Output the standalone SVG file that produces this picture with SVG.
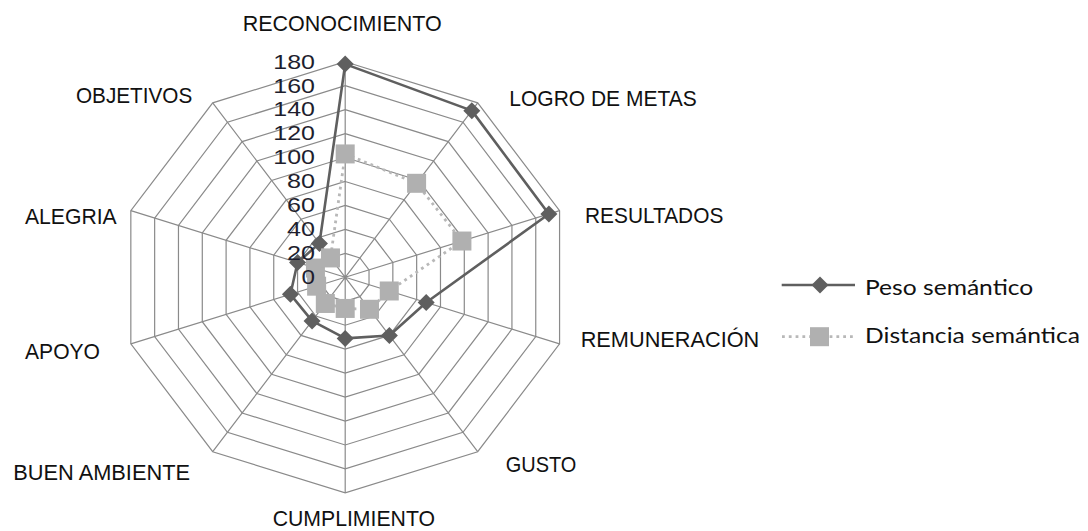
<svg xmlns="http://www.w3.org/2000/svg" xmlns:xlink="http://www.w3.org/1999/xlink" width="1088" height="531" viewBox="0 0 1088 531">
<style>
.grid{fill:none;stroke:#8a8a8a;stroke-width:1.2}
.peso{fill:none;stroke:#5f5f5f;stroke-width:2.6;stroke-linejoin:round}
.dist{fill:none;stroke:#b8b8b8;stroke-width:2.8;stroke-dasharray:2.8 4}
.dia{fill:#5f5f5f}
.sq{fill:#b0b0b0}
.cat{font-family:"Liberation Sans",Arial,sans-serif;font-size:22px;fill:#111}
.num{font-family:"Liberation Sans",Arial,sans-serif;font-size:21px;fill:#1e1e2e;text-anchor:end}
.leg{font-family:"Lato","Liberation Sans",sans-serif;font-size:22px;fill:#111}
</style>
<defs>
<polygon id="diamond" points="0,-8.5 8.5,0 0,8.5 -8.5,0"/>
<rect id="square" x="-9.5" y="-9.5" width="19" height="19"/>
</defs>
<rect width="1088" height="531" fill="#fff"/>
<g id="chart" transform="translate(345.2,277.3)">
<g id="grid" class="grid">
<polygon points="0,-23.956 14.721,-19.380 23.819,-7.402 23.819,7.402 14.721,19.380 0,23.956 -14.721,19.380 -23.819,7.402 -23.819,-7.402 -14.721,-19.380"/>
<polygon points="0,-47.911 29.442,-38.760 47.638,-14.804 47.638,14.804 29.442,38.760 0,47.911 -29.442,38.760 -47.638,14.804 -47.638,-14.804 -29.442,-38.760"/>
<polygon points="0,-71.867 44.163,-58.140 71.457,-22.207 71.457,22.207 44.163,58.140 0,71.867 -44.163,58.140 -71.457,22.207 -71.457,-22.207 -44.163,-58.140"/>
<polygon points="0,-95.822 58.884,-77.520 95.276,-29.609 95.276,29.609 58.884,77.520 0,95.822 -58.884,77.520 -95.276,29.609 -95.276,-29.609 -58.884,-77.520"/>
<polygon points="0,-119.778 73.606,-96.900 119.094,-37.011 119.094,37.011 73.606,96.900 0,119.778 -73.606,96.900 -119.094,37.011 -119.094,-37.011 -73.606,-96.900"/>
<polygon points="0,-143.733 88.327,-116.280 142.913,-44.413 142.913,44.413 88.327,116.280 0,143.733 -88.327,116.280 -142.913,44.413 -142.913,-44.413 -88.327,-116.280"/>
<polygon points="0,-167.689 103.048,-135.660 166.732,-51.816 166.732,51.816 103.048,135.660 0,167.689 -103.048,135.660 -166.732,51.816 -166.732,-51.816 -103.048,-135.660"/>
<polygon points="0,-191.644 117.769,-155.040 190.551,-59.218 190.551,59.218 117.769,155.040 0,191.644 -117.769,155.040 -190.551,59.218 -190.551,-59.218 -117.769,-155.040"/>
<polygon points="0,-215.6 132.49,-174.42 214.37,-66.62 214.37,66.62 132.49,174.42 0,215.6 -132.49,174.42 -214.37,66.62 -214.37,-66.62 -132.49,-174.42"/>
<path d="M0,0L0,-215.6M0,0L132.49,-174.42M0,0L214.37,-66.62M0,0L214.37,66.62M0,0L132.49,174.42M0,0L0,215.6M0,0L-132.49,174.42M0,0L-214.37,66.62M0,0L-214.37,-66.62M0,0L-132.49,-174.42"/>
</g>
<g id="connectors">
<polygon id="series-peso" class="peso" points="0,-213.2 126.6,-166.67 203.65,-63.29 80.98,25.17 44.16,58.14 0,61.09 -33.12,43.61 -54.78,17.03 -47.64,-14.81 -25.76,-33.92"/>
<polygon id="series-dist" class="dist" points="0,-123.37 71.4,-94 116.71,-36.27 44.06,13.69 24.29,31.98 0,31.14 -19.87,26.16 -28.58,8.88 -29.77,-9.25 -14.72,-19.38"/>
</g>
<g id="markers-peso" class="dia">
<use xlink:href="#diamond" x="0" y="-213.2"/>
<use xlink:href="#diamond" x="126.6" y="-166.67"/>
<use xlink:href="#diamond" x="203.65" y="-63.29"/>
<use xlink:href="#diamond" x="80.98" y="25.17"/>
<use xlink:href="#diamond" x="44.16" y="58.14"/>
<use xlink:href="#diamond" x="0" y="61.09"/>
<use xlink:href="#diamond" x="-33.12" y="43.61"/>
<use xlink:href="#diamond" x="-54.78" y="17.03"/>
<use xlink:href="#diamond" x="-47.64" y="-14.81"/>
<use xlink:href="#diamond" x="-25.76" y="-33.92"/>
</g>
<g id="markers-dist" class="sq">
<use xlink:href="#square" x="0" y="-123.37"/>
<use xlink:href="#square" x="71.4" y="-94"/>
<use xlink:href="#square" x="116.71" y="-36.27"/>
<use xlink:href="#square" x="44.06" y="13.69"/>
<use xlink:href="#square" x="24.29" y="31.98"/>
<use xlink:href="#square" x="0" y="31.14"/>
<use xlink:href="#square" x="-19.87" y="26.16"/>
<use xlink:href="#square" x="-28.58" y="8.88"/>
<use xlink:href="#square" x="-29.77" y="-9.25"/>
<use xlink:href="#square" x="-14.72" y="-19.38"/>
</g>
</g>
<g id="axis-values" class="num">
<text x="315" y="284.1" textLength="13.5" lengthAdjust="spacingAndGlyphs">0</text>
<text x="315" y="260.1" textLength="28" lengthAdjust="spacingAndGlyphs">20</text>
<text x="315" y="236.2" textLength="28" lengthAdjust="spacingAndGlyphs">40</text>
<text x="315" y="212.3" textLength="28" lengthAdjust="spacingAndGlyphs">60</text>
<text x="315" y="188.3" textLength="28" lengthAdjust="spacingAndGlyphs">80</text>
<text x="315" y="164.3" textLength="41.7" lengthAdjust="spacingAndGlyphs">100</text>
<text x="315" y="140.4" textLength="41.7" lengthAdjust="spacingAndGlyphs">120</text>
<text x="315" y="116.4" textLength="41.7" lengthAdjust="spacingAndGlyphs">140</text>
<text x="315" y="92.5" textLength="41.7" lengthAdjust="spacingAndGlyphs">160</text>
<text x="315" y="68.5" textLength="41.7" lengthAdjust="spacingAndGlyphs">180</text>
</g>
<g id="categories" class="cat">
<g id="cat-reconocimiento"><text x="242.7" y="30.7" textLength="199" lengthAdjust="spacingAndGlyphs">RECONOCIMIENTO</text></g>
<g id="cat-logro"><text x="509.3" y="106" textLength="187.4" lengthAdjust="spacingAndGlyphs">LOGRO DE METAS</text></g>
<g id="cat-resultados"><text x="585" y="223.3" textLength="138.3" lengthAdjust="spacingAndGlyphs">RESULTADOS</text></g>
<g id="cat-remuneracion"><text x="580.7" y="347.3" textLength="178.6" lengthAdjust="spacingAndGlyphs">REMUNERACIÓN</text></g>
<g id="cat-gusto"><text x="505.7" y="471.7" textLength="70.7" lengthAdjust="spacingAndGlyphs">GUSTO</text></g>
<g id="cat-cumplimiento"><text x="272.7" y="526" textLength="162.3" lengthAdjust="spacingAndGlyphs">CUMPLIMIENTO</text></g>
<g id="cat-buen-ambiente"><text x="13.3" y="480" textLength="176.7" lengthAdjust="spacingAndGlyphs">BUEN AMBIENTE</text></g>
<g id="cat-apoyo"><text x="25" y="359.3" textLength="75" lengthAdjust="spacingAndGlyphs">APOYO</text></g>
<g id="cat-alegria"><text x="25" y="224" textLength="91.7" lengthAdjust="spacingAndGlyphs">ALEGRIA</text></g>
<g id="cat-objetivos"><text x="76" y="102.7" textLength="116.3" lengthAdjust="spacingAndGlyphs">OBJETIVOS</text></g>
</g>
<g id="legend">
<g id="legend-peso">
<line class="peso" x1="781.7" y1="285" x2="855" y2="285"/>
<use class="dia" xlink:href="#diamond" x="820" y="285"/>
<text class="leg" x="865" y="295" textLength="168.3" lengthAdjust="spacingAndGlyphs">Peso semántico</text>
</g>
<g id="legend-dist">
<line class="dist" x1="782" y1="336.7" x2="853" y2="336.7"/>
<use class="sq" xlink:href="#square" x="819.5" y="336.7"/>
<text class="leg" x="865" y="343.3" textLength="215" lengthAdjust="spacingAndGlyphs">Distancia semántica</text>
</g>
</g>
</svg>
